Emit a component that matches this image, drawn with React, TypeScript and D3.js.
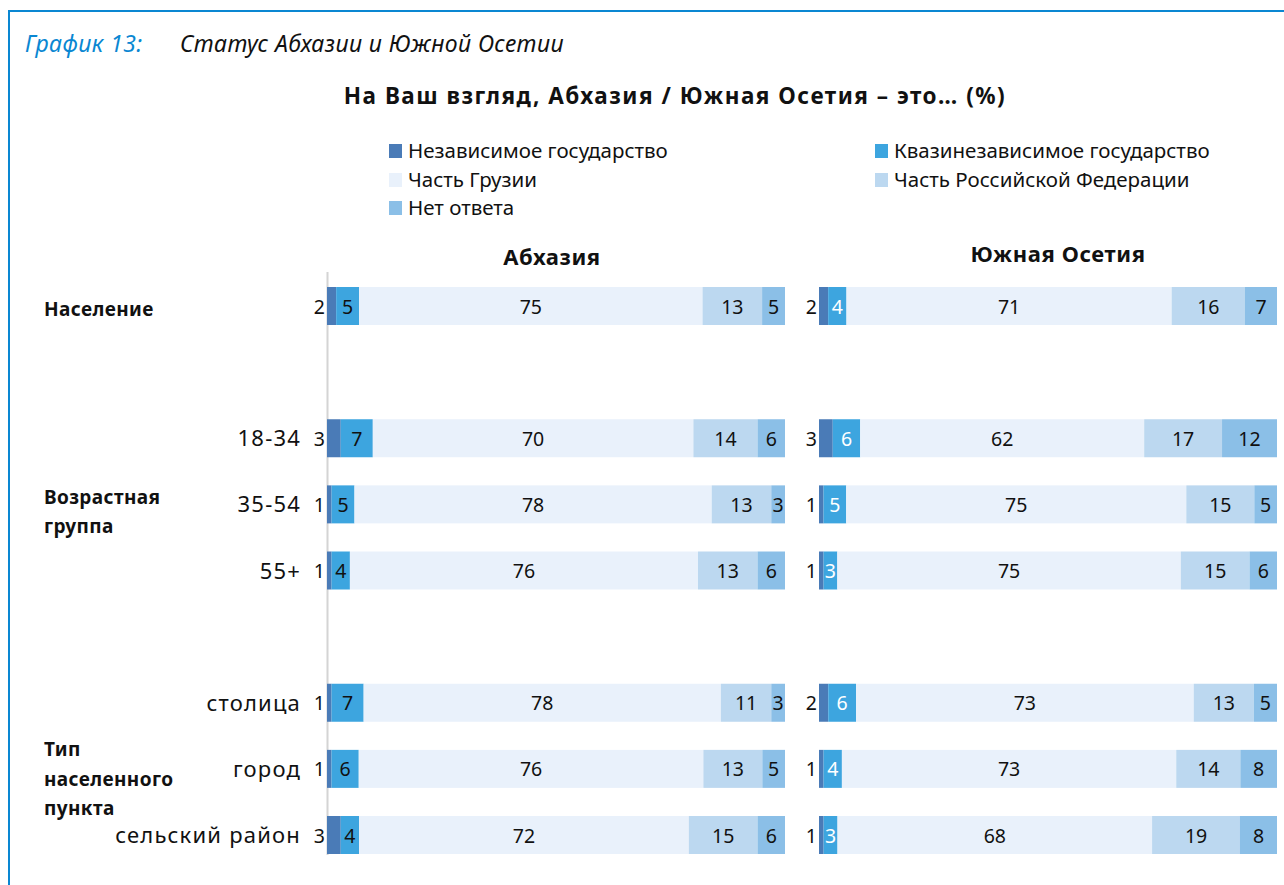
import * as d3 from "d3"
import React, { useEffect, useRef } from "react"

const seriesNames = [
    "Независимое государство",
    "Квазинезависимое государство",
    "Часть Грузии",
    "Часть Российской Федерации",
    "Нет ответа",
]
const seriesColors = ["#4a7bb7", "#3da5df", "#e9f1fb", "#bcd8f0", "#8bbfe7"]

// slots, empty strings are the gaps between groups
const rowKeys = ["Население", "gap1", "18-34", "35-54", "55+", "gap2", "столица", "город", "сельский район"]
const rowLabels = ["", "", "18-34", "35-54", "55+", "", "столица", "город", "сельский район"]

const groupLabels = [
    { row: "Население", lines: ["Население"] },
    { row: "35-54", lines: ["Возрастная", "группа"] },
    { row: "город", lines: ["Тип", "населенного", "пункта"] },
]
const groupShift = [3, 7, 10]

const dataRows = ["Население", "18-34", "35-54", "55+", "столица", "город", "сельский район"]
const abkhazia = [
    [2, 5, 75, 13, 5],
    [3, 7, 70, 14, 6],
    [1, 5, 78, 13, 3],
    [1, 4, 76, 13, 6],
    [1, 7, 78, 11, 3],
    [1, 6, 76, 13, 5],
    [3, 4, 72, 15, 6],
]
const ossetia = [
    [2, 4, 71, 16, 7],
    [3, 6, 62, 17, 12],
    [1, 5, 75, 15, 5],
    [1, 3, 75, 15, 6],
    [2, 6, 73, 13, 5],
    [1, 4, 73, 14, 8],
    [1, 3, 68, 19, 8],
]

const panels = [
    { title: "Абхазия", data: abkhazia, x0: 327, x1: 785, quasiText: "#111", titleX: 552, titleY: 257 },
    { title: "Южная Осетия", data: ossetia, x0: 819, x1: 1277, quasiText: "#fff", titleX: 1058, titleY: 254 },
]

const FONT = "'Noto Sans', 'Open Sans', sans-serif"

const App = () => {
    const refSvg = useRef<SVGSVGElement>(null)

    useEffect(() => {
        const svg = d3.select(refSvg.current)
        svg.selectAll("*").remove()

        // frame
        svg.append("path")
            .attr("d", "M9,885 L9,11 L1284,11")
            .attr("fill", "none")
            .attr("stroke", "#0a87d2")
            .attr("stroke-width", 2)

        // headings
        const head = svg.append("text")
            .attr("x", 25).attr("y", 52)
            .attr("font-family", FONT)
            .attr("font-size", 23)
            .attr("letter-spacing", 0.4)
            .attr("font-style", "italic")
        head.append("tspan").attr("fill", "#0a87d2").text("График 13:")
        head.append("tspan").attr("x", 180).attr("fill", "#111").text("Статус Абхазии и Южной Осетии")

        svg.append("text")
            .attr("x", 675).attr("y", 104)
            .attr("text-anchor", "middle")
            .attr("font-family", FONT)
            .attr("font-size", 22.5)
            .attr("letter-spacing", 1.5)
            .attr("font-weight", "bold")
            .attr("fill", "#111")
            .text("На Ваш взгляд, Абхазия / Южная Осетия – это… (%)")

        // legend
        const legendPos = [[389, 151], [875, 151], [389, 180], [875, 180], [389, 208]]
        const legend = svg.append("g")
        seriesNames.forEach((name, i) => {
            const [lx, ly] = legendPos[i]
            legend.append("rect")
                .attr("x", lx).attr("y", ly - 7)
                .attr("width", 13).attr("height", 14)
                .attr("fill", seriesColors[i])
            legend.append("text")
                .attr("x", lx + 19).attr("y", ly + 7)
                .attr("font-family", FONT)
                .attr("font-size", 20.5)
                .attr("fill", "#111")
                .text(name)
        })

        const scaleY = d3.scalePoint<string>()
            .domain(rowKeys)
            .range([306, 835])
        const barH = 38

        // row labels
        rowKeys.forEach((k, i) => {
            if (!rowLabels[i]) return
            svg.append("text")
                .attr("x", 301).attr("y", scaleY(k)! + 8)
                .attr("text-anchor", "end")
                .attr("font-family", FONT)
                .attr("font-size", 22)
                .attr("letter-spacing", 1.2)
                .attr("fill", "#111")
                .text(rowLabels[i])
        })

        groupLabels.forEach((g, gi) => {
            const cy = scaleY(g.row)! + groupShift[gi]
            const lh = 29.5
            const top = cy - (g.lines.length - 1) * lh / 2
            g.lines.forEach((line, j) => {
                svg.append("text")
                    .attr("x", 44).attr("y", top + j * lh + 7)
                    .attr("font-family", FONT)
                    .attr("font-size", 19)
                    .attr("letter-spacing", 0.4)
                    .attr("font-weight", "bold")
                    .attr("fill", "#111")
                    .text(line)
            })
        })

        // axis line of left panel
        svg.append("line")
            .attr("x1", 327.5).attr("x2", 327.5)
            .attr("y1", 272).attr("y2", 855)
            .attr("stroke", "#d4d4d4")
            .attr("stroke-width", 2)

        panels.forEach(p => {
            const g = svg.append("g")

            g.append("text")
                .attr("x", p.titleX).attr("y", p.titleY + 8)
                .attr("text-anchor", "middle")
                .attr("font-family", FONT)
                .attr("font-size", 22)
                .attr("letter-spacing", 0.6)
                .attr("font-weight", "bold")
                .attr("fill", "#111")
                .text(p.title)

            p.data.forEach((vals, r) => {
                const cy = scaleY(dataRows[r])!
                const stack = d3.cumsum(vals)
                // each row fills the full width (values are rounded)
                const scaleX = d3.scaleLinear().domain([0, stack[stack.length - 1]]).range([p.x0, p.x1])
                vals.forEach((v, i) => {
                    const a = i === 0 ? 0 : stack[i - 1]
                    const b = stack[i]
                    g.append("rect")
                        .attr("x", scaleX(a)).attr("y", cy - barH / 2)
                        .attr("width", scaleX(b) - scaleX(a))
                        .attr("height", barH)
                        .attr("fill", seriesColors[i])
                    const t = g.append("text")
                        .attr("y", cy + 7.5)
                        .attr("font-family", FONT)
                        .attr("font-size", 19.5)
                        .attr("fill", i === 1 ? p.quasiText : "#111")
                        .text(v)
                    if (i === 0) {
                        t.attr("x", scaleX(0) - 2).attr("text-anchor", "end")
                    } else {
                        t.attr("x", (scaleX(a) + scaleX(b)) / 2).attr("text-anchor", "middle")
                    }
                })
            })
        })
    }, [])

    return (
        <svg ref={refSvg} width={1284} height={885}
            style={{ position: "absolute", left: 0, top: 0, background: "#fff" }} />
    )
}

export default App
